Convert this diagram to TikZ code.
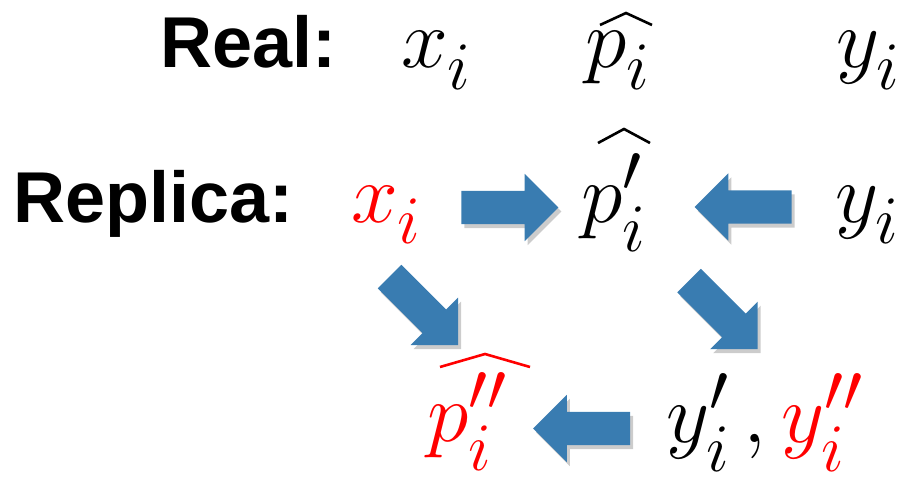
\RequirePackage{fix-cm}
\documentclass[tikz,border=0pt]{standalone}
\usepackage{exscale}
\usepackage{fontspec}
\newfontfamily\labfont{Liberation Sans}
\usetikzlibrary{shapes.arrows,shadows,calc}
\DeclareMathSizes{84}{84}{68}{56}
\newcommand\ii{\lower9pt\hbox{$\scriptstyle i$}}
\definecolor{arrowblue}{RGB}{57,124,177}
\tikzset{
  lab/.style={anchor=base west, inner sep=0pt, font=\labfont\bfseries\fontsize{72}{86}\selectfont},
  mth/.style={anchor=base west, inner sep=0pt, font=\fontsize{84}{100}\selectfont},
  hatline/.style={line width=2.6pt, line join=miter, line cap=butt},
  barrow/.style={single arrow, draw=none, fill=arrowblue, minimum height=97pt,
    minimum width=67pt, single arrow head extend=17pt, inner xsep=0pt, inner ysep=16.5pt,
    single arrow tip angle=90,
    drop shadow={shadow xshift=3pt, shadow yshift=-4pt, opacity=0.2, fill=black}},
}
\begin{document}
\begin{tikzpicture}[x=1pt,y=-1pt]
\useasboundingbox (0,0) rectangle (917,476);
% labels
\node[lab] (real) at (160,68) {Real:};
\node[lab] (replica) at (13,222) {Replica:};
% top row
\node[mth] (rx) at (401,68) {$x_{\ii}$};
\node[mth] (rp) at (585,68) {$p_{\ii}$};
\node[mth] (ry) at (836,68) {$y_{\ii}$};
% replica row
\node[mth, text=red] (px) at (351,222) {$x_{\ii}$};
\node[mth] (pp) at (581,222) {$p_{\ii}'$};
\node[mth] (py) at (835,222) {$y_{\ii}$};
% bottom row
\node[mth, text=red] (ppp) at (427,441) {$p_{\ii}''$};
\node[mth] (yy) at (666,442) {$y_{\ii}'\mkern3mu,$};
\node[mth, text=red] (yyr) at (781,442) {$y_{\ii}''$};
% hats
\draw[hatline] ($(rp.base west)+(15,-43)$) -- ($(rp.base west)+(41,-55)$) -- ($(rp.base west)+(67,-43)$);
\draw[hatline] ($(pp.base west)+(17,-79)$) -- ($(pp.base west)+(43,-93)$) -- ($(pp.base west)+(69,-79)$);
\draw[hatline, red] ($(ppp.base west)+(13,-74)$) -- ($(ppp.base west)+(58,-87)$) -- ($(ppp.base west)+(103,-74)$);
% block arrows
\node[barrow] (a1) at (501.5,207.5) {};
\node[barrow, rotate=180] (a2) at (751.5,207) {};
\node[barrow, rotate=-45] (a3) at (418,305) {};
\node[barrow, rotate=-45] (a4) at (717.5,309) {};
\node[barrow, rotate=180] (a5) at (590,428.5) {};
\end{tikzpicture}
\end{document}
